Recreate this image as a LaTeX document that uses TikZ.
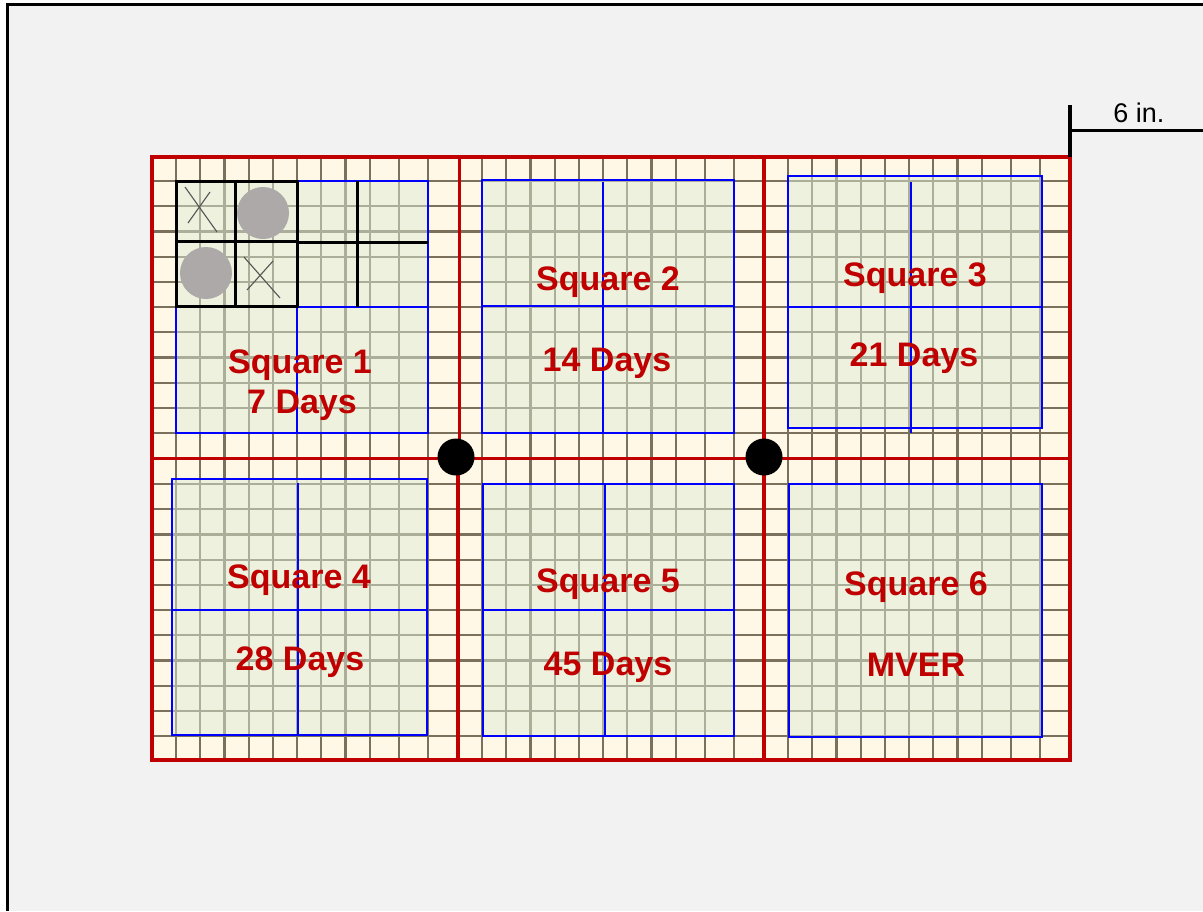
\documentclass[tikz,border=0pt]{standalone}
\usepackage{fontspec}
\setmainfont{Liberation Sans}
\definecolor{bgc}{HTML}{F2F2F2}
\definecolor{cream}{HTML}{FFF8E6}
\definecolor{gridc}{HTML}{7A705C}
\definecolor{redc}{HTML}{C00000}
\definecolor{bluec}{HTML}{0000FF}
\definecolor{greenc}{HTML}{DDECD5}
\definecolor{grayc}{HTML}{ADA9A8}
\definecolor{xc}{HTML}{555555}
\begin{document}
\begin{tikzpicture}[x=1pt,y=-1pt,
  gridline/.style={draw=gridc,line width=2.2pt},
  redline/.style={draw=redc,line width=3.6pt},
  bluesq/.style={draw=bluec,line width=2.8pt},
  greenfill/.style={fill=greenc,fill opacity=0.5},
  blackln/.style={draw=black,line width=3pt},
  xmark/.style={draw=xc,line width=1.1pt},
  graydot/.style={fill=grayc},
  blackdot/.style={fill=black},
  lbl/.style={text=redc,font=\bfseries\fontsize{34}{36}\selectfont,inner sep=0pt,anchor=base},
  rulerln/.style={draw=black,line width=3.4pt},
  ]
\useasboundingbox (0,0) rectangle (1203,911);
\fill[white] (0,0) rectangle (1203,911);
\fill[bgc] (9,6) rectangle (1203,911);
\draw[line width=3.4pt] (7.5,911) -- (7.5,4.5) -- (1203,4.5);

% graph paper
\fill[cream] (152,157) rectangle (1070,760);
\foreach \L in {176,482,788}{
  \foreach \d in {0,24.2,48.4,72.6,96.8,121,145.2,169.4,193.6,222.9,252.2}{
    \draw[gridline] ({\L+\d},157) -- ({\L+\d},760);
  }
}
\foreach \T in {181,484}{
  \foreach \k in {0,...,10}{
    \draw[gridline] (152,{\T+25.2*\k}) -- (1070,{\T+25.2*\k});
  }
}

% green squares
\fill[greenfill] (176,181) rectangle (428,433);
\fill[greenfill] (482,180) rectangle (734,433);
\fill[greenfill] (788,176) rectangle (1042,428);
\fill[greenfill] (172,479) rectangle (427,735);
\fill[greenfill] (483,484) rectangle (734,736);
\fill[greenfill] (789,484) rectangle (1042,737);

% blue squares
\draw[bluesq] (176,181) rectangle (428,433);
\draw[bluesq] (297,307) -- (297,433) (176,307) -- (428,307) (297,181) -- (428,181);
\draw[bluesq] (482,180) rectangle (734,433);
\draw[bluesq] (603,182) -- (603,433) (482,306) -- (734,306);
\draw[bluesq] (788,176) rectangle (1042,428);
\draw[bluesq] (911,182) -- (911,433) (788,307) -- (1042,307);
\draw[bluesq] (172,479) rectangle (427,735);
\draw[bluesq] (298,483) -- (298,735) (172,610) -- (427,610);
\draw[bluesq] (483,484) rectangle (734,736);
\draw[bluesq] (605,484) -- (605,736) (483,610) -- (734,610);
\draw[bluesq] (789,484) rectangle (1042,737);

% square 1 detail
\fill[graydot] (263,213) circle (26);
\fill[graydot] (206,273) circle (26);
\draw[blackln] (176,181) rectangle (297,306);
\draw[blackln] (235,181) -- (235,306) (176,241) -- (297,241);
\draw[blackln] (297,242) -- (428,242) (357,181) -- (357,307);
\draw[xmark] (185,187) -- (217,232) (210,192) -- (188,223);
\draw[xmark] (244,257) -- (280,298) (273,261) -- (247,290);

% red panel lines
\draw[redline] (152,157) rectangle (1070,760);
\draw[redline] (459.5,157) -- (459.5,458) (458,458) -- (458,760);
\draw[redline] (764,157) -- (764,760);
\draw[redline] (152,458.5) -- (1070,458.5);

% dots
\fill[blackdot] (456,457) circle (18.5);
\fill[blackdot] (764,457) circle (18.5);

% labels
\node[lbl] (s1a) at (300,373) {Square 1};
\node[lbl] (s1b) at (302,413) {7 Days};
\node[lbl] (s2a) at (608,290) {Square 2};
\node[lbl] (s2b) at (607,371) {14 Days};
\node[lbl] (s3a) at (915,286) {Square 3};
\node[lbl] (s3b) at (914,366) {21 Days};
\node[lbl] (s4a) at (299,588) {Square 4};
\node[lbl] (s4b) at (300,670) {28 Days};
\node[lbl] (s5a) at (608,592) {Square 5};
\node[lbl] (s5b) at (608,675) {45 Days};
\node[lbl] (s6a) at (916,595) {Square 6};
\node[lbl] (s6b) at (916,676) {MVER};

% ruler
\coordinate (rtop) at (1070,105);
\coordinate (rbot) at (1070,157);
\coordinate (rmid) at (1070,130.5);
\coordinate (rend) at (1203,130.5);
\draw[rulerln] (rtop) -- (rbot);
\draw[rulerln] (rmid) -- (rend);
\node[font=\fontsize{27}{30}\selectfont,inner sep=0pt,anchor=base] (six) at (1139,122) {6 in.};
\end{tikzpicture}
\end{document}
